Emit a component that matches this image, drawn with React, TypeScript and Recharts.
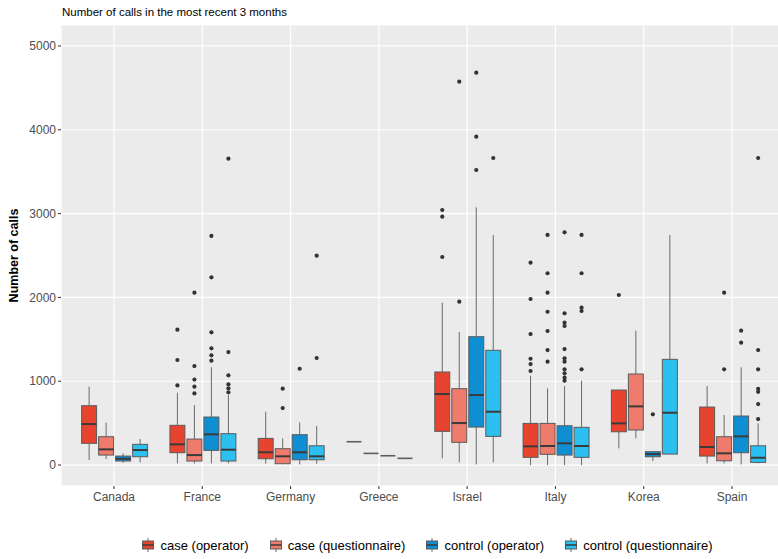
import React from 'react';
import { ComposedChart, Bar, XAxis, YAxis, CartesianGrid, Legend } from 'recharts';

const FONT = '"Liberation Sans", Arial, sans-serif';

const countries = ['Canada', 'France', 'Germany', 'Greece', 'Israel', 'Italy', 'Korea', 'Spain'];
const seriesNames = ['case (operator)', 'case (questionnaire)', 'control (operator)', 'control (questionnaire)'];
const seriesColors = ['#E8432E', '#EF7B6C', '#0E8FD4', '#2BC0F0'];
const yTicks = [0, 1000, 2000, 3000, 4000, 5000];
const minorTicks = [500, 1500, 2500, 3500, 4500];

// [lower whisker, Q1, median, Q3, upper whisker] per country
const caseOperatorStats = [
  [60, 259, 489, 708, 934],
  [20, 147, 247, 474, 863],
  [16, 75, 152, 318, 636],
  [278, 278, 278, 278, 278],
  [80, 402, 847, 1110, 1937],
  [0, 92, 223, 497, 1066],
  [199, 397, 497, 895, 895],
  [20, 107, 215, 692, 943],
];
const caseOperatorOutliers = [
  [], [1615, 1253, 950], [], [], [3043, 2963, 2482],
  [2414, 1981, 1563, 1268, 1205, 1122], [2029], [],
];

const caseQuestionnaireStats = [
  [72, 119, 187, 338, 505],
  [20, 48, 119, 310, 716],
  [8, 16, 104, 195, 318],
  [139, 139, 139, 139, 139],
  [32, 271, 501, 911, 1587],
  [0, 128, 227, 497, 915],
  [318, 418, 700, 1086, 1603],
  [20, 51, 140, 338, 597],
];
const caseQuestionnaireOutliers = [
  [], [2056, 1181, 1020, 935, 855], [911, 680], [], [4574, 1949],
  [2745, 2288, 2056, 1829, 1599, 1372, 1233], [], [2056, 1142],
];

const controlOperatorStats = [
  [27, 48, 75, 107, 139],
  [20, 175, 366, 573, 1166],
  [8, 63, 152, 362, 509],
  [111, 111, 111, 111, 111],
  [8, 453, 835, 1531, 3075],
  [0, 119, 259, 469, 943],
  [48, 99, 131, 159, 159],
  [8, 147, 342, 585, 1166],
];
const controlOperatorOutliers = [
  [], [2733, 2240, 1583, 1393, 1309, 1245], [1149], [], [4681, 3918, 3520],
  [2777, 1810, 1698, 1659, 1384, 1273, 1233, 1142, 1094, 1042, 1006], [605], [1603, 1460],
];

const controlQuestionnaireStats = [
  [32, 99, 179, 247, 310],
  [20, 48, 183, 374, 835],
  [16, 63, 104, 230, 465],
  [80, 80, 80, 80, 80],
  [32, 342, 636, 1369, 2745],
  [0, 92, 227, 450, 1006],
  [131, 131, 624, 1261, 2745],
  [20, 32, 87, 230, 497],
];
const controlQuestionnaireOutliers = [
  [], [3655, 1348, 1070, 963, 915, 868], [2498, 1277], [], [3663],
  [2745, 2288, 1877, 1838, 1142], [], [3663, 1372, 1142, 910, 873, 728, 549],
];

const allStats = [caseOperatorStats, caseQuestionnaireStats, controlOperatorStats, controlQuestionnaireStats];
const allOutliers = [caseOperatorOutliers, caseQuestionnaireOutliers, controlOperatorOutliers, controlQuestionnaireOutliers];

const rows = countries.map((country, i) => {
  const row: any = { country, stats: [], outs: [] };
  allStats.forEach((s, si) => {
    row.stats.push(s[i]);
    row.outs.push(allOutliers[si][i]);
    row['r' + si] = [s[i][0], s[i][4]];
  });
  return row;
});

const makeShape = (si: number) => (props: any) => {
  const { x, y, width, height, payload } = props;
  if (!payload) return null;
  const [lo, q1, med, q3, hi] = payload.stats[si];
  const out: number[] = payload.outs[si];
  const top = Math.min(y, y + height);
  const h = Math.abs(height);
  const k = hi > lo ? h / (hi - lo) : 0;
  const Y = (v: number) => top + (hi - v) * k;
  const cx = x + width / 2;
  const bw = width * 0.88;
  const bx = cx - bw / 2;
  const flat = hi === lo;
  return (
    <g>
      {!flat && <line x1={cx} x2={cx} y1={Y(hi)} y2={Y(q3)} stroke="#6a6a6a" strokeWidth={1} />}
      {!flat && <line x1={cx} x2={cx} y1={Y(q1)} y2={Y(lo)} stroke="#6a6a6a" strokeWidth={1} />}
      {!flat && (
        <rect x={bx} y={Y(q3)} width={bw} height={Math.max(0, Y(q1) - Y(q3))} fill={seriesColors[si]} stroke="#5a5a5a" strokeWidth={1} />
      )}
      <line x1={bx} x2={bx + bw} y1={Y(med)} y2={Y(med)} stroke={flat ? '#5e5e5e' : '#3a3a3a'} strokeWidth={flat ? 1.6 : 2} />
      {out.map((v, j) => (
        <circle key={j} cx={cx} cy={Y(v)} r={2.1} fill="#333" />
      ))}
    </g>
  );
};

const LegendContent = () => (
  <div style={{ display: 'flex', justifyContent: 'center', alignItems: 'center', fontFamily: FONT, fontSize: 13, color: '#000', height: 20 }}>
    {seriesNames.map((n, i) => (
      <div key={n} style={{ display: 'flex', alignItems: 'center', marginRight: i < 3 ? 20 : 0 }}>
        <svg width={14} height={14} style={{ display: 'block' }}>
          <line x1={7} y1={0} x2={7} y2={14} stroke="#6a6a6a" />
          <rect x={1.5} y={3} width={11} height={8} fill={seriesColors[i]} stroke="#5a5a5a" />
          <line x1={1.5} y1={7} x2={12.5} y2={7} stroke="#3a3a3a" strokeWidth={1.5} />
        </svg>
        <span style={{ marginLeft: 5 }}>{n}</span>
      </div>
    ))}
  </div>
);

const YLabel = (props: any) => {
  const vb = props.viewBox || { x: 0, y: 25, width: 61, height: 461 };
  const cx = 14;
  const cy = vb.y + vb.height / 2;
  return (
    <text x={cx} y={cy} transform={`rotate(-90 ${cx} ${cy})`} textAnchor="middle" dominantBaseline="central"
      fontFamily={FONT} fontSize={12.5} fontWeight="bold" fill="#000">
      Number of calls
    </text>
  );
};

const minorGen = (p: any) => {
  try {
    const sc = p && p.yAxis && p.yAxis.scale;
    if (!sc) return [];
    return minorTicks.map((v) => sc(v));
  } catch (e) {
    return [];
  }
};

export default function App() {
  return (
    <div style={{ position: 'absolute', left: 0, top: 0, width: 778, height: 559, overflow: 'hidden', background: '#fff', fontFamily: FONT }}>
      <ComposedChart
        width={790}
        height={559}
        data={rows}
        margin={{ top: 25, right: 5, bottom: 23, left: 0 }}
        barCategoryGap="12.2%"
        barGap={0}
      >
        <CartesianGrid fill="#EBEBEB" vertical={false} stroke="#F6F6F6" strokeWidth={0.7} horizontalCoordinatesGenerator={minorGen} />
        <CartesianGrid stroke="#FFFFFF" strokeWidth={1.2} />
        <XAxis
          dataKey="country"
          interval={0}
          tickLine={{ stroke: '#333' }}
          tickSize={3}
          tickMargin={3}
          axisLine={false}
          padding={{ left: 8.85, right: 8.85 }}
          height={30}
          tick={{ fill: '#4D4D4D', fontSize: 12, fontFamily: FONT }}
        />
        <YAxis
          type="number"
          domain={[-250, 5250]}
          ticks={yTicks}
          allowDataOverflow
          width={61}
          tickLine={{ stroke: '#333' }}
          tickSize={3}
          tickMargin={2}
          axisLine={false}
          tick={{ fill: '#4D4D4D', fontSize: 12, fontFamily: FONT }}
          label={{ content: YLabel }}
        />
        {[0, 1, 2, 3].map((si) => (
          <Bar key={si} dataKey={'r' + si} name={seriesNames[si]} fill={seriesColors[si]} shape={makeShape(si)} isAnimationActive={false} />
        ))}
        <Legend verticalAlign="bottom" content={LegendContent} wrapperStyle={{ left: 38, width: 778, bottom: 4 }} />
      </ComposedChart>
      <div style={{ position: 'absolute', left: 62, top: 6, fontSize: 11.5, color: '#000', fontFamily: FONT, whiteSpace: 'nowrap' }}>
        Number of calls in the most recent 3 months
      </div>
    </div>
  );
}
